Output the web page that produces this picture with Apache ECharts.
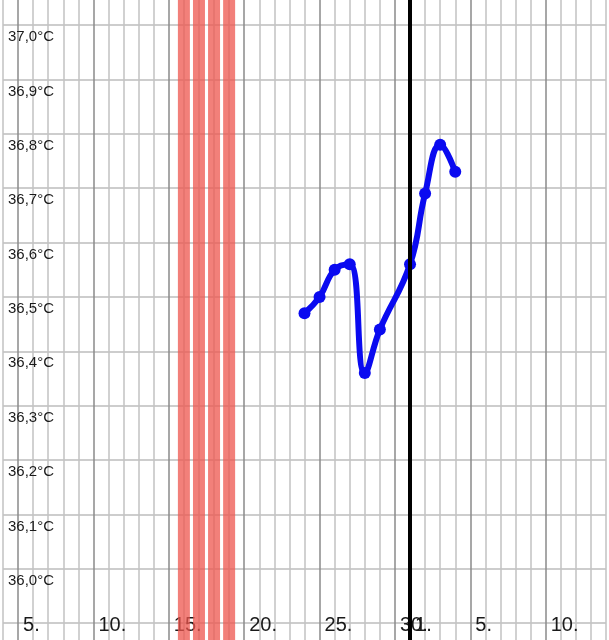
<!DOCTYPE html>
<html>
<head>
<meta charset="utf-8">
<script src="https://cdn.jsdelivr.net/npm/echarts@6/dist/echarts.min.js"></script>
<style>
  html, body { margin: 0; padding: 0; background: #fff; }
  #chart { width: 609px; height: 640px; }
</style>
</head>
<body>
<div id="chart"></div>
<script>
// days counted from the 1st of the first month (30 days), next month continues at 31
const monthLength = 30
const measureDays = [24, 25, 26, 27, 28, 29, 31, 32, 33, 34]
const temps = [36.47, 36.50, 36.55, 36.56, 36.36, 36.44, 36.56, 36.69, 36.78, 36.73]
const periodDays = [16, 17, 18, 19]
const monthStartDay = 31
const xLabelDays = [5, 10, 15, 20, 25, 30, 31, 35, 40]
const yLabelMin = 36.0
const yLabelMax = 37.0
const yMin = 35.869
const yMax = 37.046

const lineData = measureDays.map((d, i) => [d, temps[i]])
const bandData = periodDays.map(d => [d, yMax])

const chart = echarts.init(document.getElementById('chart'))

const option = {
  animation: false,
  backgroundColor: '#fff',
  grid: { left: 0, right: 0, top: 0, bottom: 0 },
  xAxis: {
    type: 'value',
    min: 4,
    max: 44,
    interval: 1,
    axisLine: { show: false },
    axisTick: { show: false },
    splitLine: {
      show: true,
      lineStyle: { color: ['#c2c2c2', '#8a8a8a', '#c2c2c2', '#c2c2c2', '#c2c2c2'], width: 1.5 }
    },
    axisLabel: {
      inside: true,
      margin: 15,
      align: 'left',
      verticalAlign: 'middle',
      padding: [0, 0, 0, 5],
      fontSize: 20,
      fontFamily: 'Liberation Sans, Arial, sans-serif',
      color: '#1a1a1a',
      formatter: function (v) {
        if (xLabelDays.indexOf(v) < 0) return ''
        return (v > monthLength ? v - monthLength : v) + '.'
      }
    }
  },
  yAxis: {
    type: 'value',
    min: yMin,
    max: yMax,
    splitNumber: 12,
    axisLine: { show: false },
    axisTick: { show: false },
    splitLine: { show: true, showMinLine: false, showMaxLine: false, lineStyle: { color: '#bdbdbd', width: 1.5 } },
    axisLabel: {
      inside: true,
      margin: 5,
      align: 'left',
      verticalAlign: 'top',
      lineHeight: 24,
      fontSize: 15,
      fontFamily: 'Liberation Sans, Arial, sans-serif',
      color: '#1a1a1a',
      formatter: function (v) {
        if (v < yLabelMin - 0.001 || v > yLabelMax + 0.001) return ''
        return v.toFixed(1).replace('.', ',') + '°C'
      }
    }
  },
  series: [
    {
      type: 'bar',
      data: bandData,
      barWidth: 12,
      silent: true,
      itemStyle: { color: 'rgba(238,86,78,0.75)' },
      markLine: {
        silent: true,
        symbol: 'none',
        label: { show: false },
        lineStyle: { color: '#000', width: 4, type: 'solid' },
        data: [{ xAxis: monthStartDay }]
      }
    },
    {
      type: 'line',
      data: lineData,
      smooth: 0.45,
      symbol: 'circle',
      symbolSize: 12,
      lineStyle: { color: '#0a0af0', width: 6 },
      itemStyle: { color: '#0a0af0' }
    }
  ]
}

chart.setOption(option)
</script>
</body>
</html>
